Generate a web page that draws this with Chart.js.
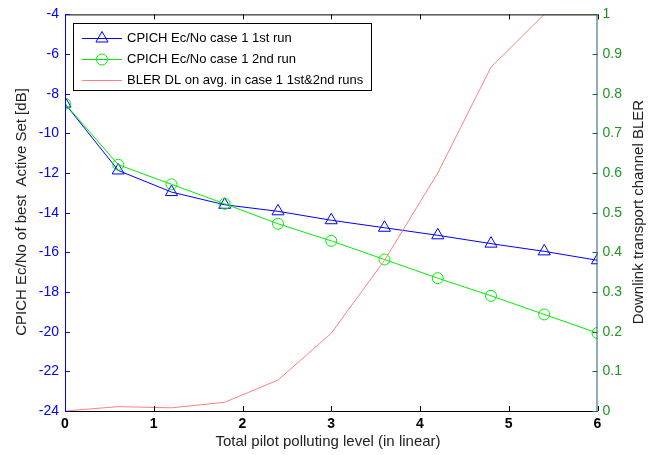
<!DOCTYPE html>
<html lang="en">
<head>
    <meta charset="UTF-8">
    <title>CPICH Ec/No and BLER vs pilot polluting level</title>
    <script src="https://cdn.jsdelivr.net/npm/chart.js@4.4.8/dist/chart.umd.min.js"></script>
    <style>
        html, body { margin: 0; padding: 0; background: #fff; }
        #wrap { width: 660px; height: 455px; position: relative; }
    </style>
</head>
<body>
    <div id="wrap"><canvas id="mainChart" width="660" height="455"></canvas></div>

    <script>
        // data
        const pollutionLevels = [0, 0.6, 1.2, 1.8, 2.4, 3.0, 3.6, 4.2, 4.8, 5.4, 6.0];
        const ecnoRun1 = [-8.5, -11.87, -12.96, -13.6, -13.93, -14.38, -14.76, -15.14, -15.56, -15.95, -16.4];
        const ecnoRun2 = [-8.5, -11.58, -12.57, -13.55, -14.56, -15.42, -16.36, -17.3, -18.19, -19.13, -20.07];
        const blerAvg = [0.0, 0.011, 0.008, 0.022, 0.078, 0.196, 0.38, 0.6, 0.867, 1.0, 1.0];

        const xTickValues = [0, 1, 2, 3, 4, 5, 6];
        const leftTickValues = [-24, -22, -20, -18, -16, -14, -12, -10, -8, -6, -4];
        const rightTickValues = [0, 0.1, 0.2, 0.3, 0.4, 0.5, 0.6, 0.7, 0.8, 0.9, 1];

        const seriesLabels = [
            'CPICH Ec/No case 1 1st run',
            'CPICH Ec/No case 1 2nd run',
            'BLER DL on avg. in case 1 1st&2nd runs'
        ];

        const FONT = "'Liberation Sans', Arial, sans-serif";
        const BLUE = '#0000ff';
        const GREEN = '#00ee00';
        const RED = '#ff8080';
        const RIGHT_AXIS = '#1d5f6a';
        const RIGHT_LABEL = '#1f961f';

        function toPoints(ys) {
            return pollutionLevels.map((x, i) => ({ x: x, y: ys[i] }));
        }

        // frame, inward ticks, titles and legend drawn like the original figure
        const matlabAxes = {
            id: 'matlabAxes',
            afterDatasetsDraw(chart) {
                const ctx = chart.ctx;
                const a = chart.chartArea;
                const xs = chart.scales.x, yl = chart.scales.y, yr = chart.scales.y1;
                const tl = 5;
                ctx.save();
                ctx.lineWidth = 1;

                // top and bottom lines with ticks
                ctx.strokeStyle = '#000';
                ctx.beginPath();
                ctx.moveTo(a.left, a.top + 0.5); ctx.lineTo(a.right, a.top + 0.5);
                ctx.moveTo(a.left, a.bottom + 0.5); ctx.lineTo(a.right, a.bottom + 0.5);
                xTickValues.forEach(v => {
                    const px = Math.round(xs.getPixelForValue(v)) + 0.5;
                    ctx.moveTo(px, a.bottom); ctx.lineTo(px, a.bottom - tl);
                    ctx.moveTo(px, a.top); ctx.lineTo(px, a.top + tl);
                });
                ctx.stroke();

                // left axis
                ctx.strokeStyle = BLUE;
                ctx.beginPath();
                ctx.moveTo(a.left + 0.5, a.top); ctx.lineTo(a.left + 0.5, a.bottom + 1);
                leftTickValues.forEach(v => {
                    const py = Math.round(yl.getPixelForValue(v)) + 0.5;
                    ctx.moveTo(a.left, py); ctx.lineTo(a.left + tl, py);
                });
                ctx.stroke();

                // right axis
                ctx.strokeStyle = RIGHT_AXIS;
                ctx.beginPath();
                ctx.moveTo(a.right - 0.5, a.top); ctx.lineTo(a.right - 0.5, a.bottom + 1);
                ctx.stroke();
                ctx.strokeStyle = '#1a6a2a';
                ctx.beginPath();
                rightTickValues.forEach(v => {
                    const py = Math.round(yr.getPixelForValue(v)) + 0.5;
                    ctx.moveTo(a.right, py); ctx.lineTo(a.right - tl, py);
                });
                ctx.stroke();
                ctx.restore();
            },
            afterDraw(chart) {
                const ctx = chart.ctx;
                ctx.save();

                // axis titles
                ctx.fillStyle = '#222';
                ctx.font = '15px ' + FONT;
                ctx.textAlign = 'center';
                ctx.textBaseline = 'middle';
                ctx.fillText('Total pilot polluting level (in linear)', 328, 442);

                ctx.save();
                ctx.translate(22, 212);
                ctx.rotate(-Math.PI / 2);
                ctx.fillText('CPICH Ec/No of best  Active Set [dB]', 0, 0);
                ctx.restore();

                ctx.save();
                ctx.translate(639, 212);
                ctx.rotate(-Math.PI / 2);
                ctx.fillText('Downlink transport channel BLER', 0, 0);
                ctx.restore();

                // legend box
                const box = { x: 73.5, y: 23.5, w: 298, h: 67 };
                ctx.fillStyle = '#fff';
                ctx.fillRect(box.x, box.y, box.w, box.h);
                ctx.strokeStyle = '#000';
                ctx.lineWidth = 1;
                ctx.strokeRect(box.x, box.y, box.w, box.h);

                const rows = [38, 59, 80];
                chart.data.datasets.forEach((ds, i) => {
                    const y = rows[i] + 0.5;
                    ctx.strokeStyle = ds.borderColor;
                    ctx.lineWidth = 1;
                    ctx.beginPath();
                    ctx.moveTo(82, y); ctx.lineTo(122, y);
                    ctx.stroke();
                    if (ds.pointRadius > 0) {
                        ctx.fillStyle = 'rgba(0,0,0,0)';
                        ctx.strokeStyle = ds.borderColor;
                        Chart.helpers.drawPoint(ctx, {
                            pointStyle: ds.pointStyle,
                            radius: ds.pointRadius,
                            borderWidth: 1
                        }, 102, y);
                    }
                    ctx.fillStyle = '#000';
                    ctx.font = '13px ' + FONT;
                    ctx.textAlign = 'left';
                    ctx.textBaseline = 'middle';
                    ctx.fillText(ds.label, 127, rows[i]);
                });
                ctx.restore();
            }
        };

        const ctx = document.getElementById('mainChart').getContext('2d');
        const mainChart = new Chart(ctx, {
            type: 'line',
            data: {
                datasets: [
                    {
                        label: seriesLabels[0],
                        data: toPoints(ecnoRun1),
                        yAxisID: 'y',
                        borderColor: BLUE,
                        backgroundColor: 'rgba(0,0,0,0)',
                        borderWidth: 1,
                        pointStyle: 'triangle',
                        pointRadius: 7,
                        pointBorderWidth: 1,
                        pointBackgroundColor: 'rgba(0,0,0,0)',
                        order: 2
                    },
                    {
                        label: seriesLabels[1],
                        data: toPoints(ecnoRun2),
                        yAxisID: 'y',
                        borderColor: GREEN,
                        backgroundColor: 'rgba(0,0,0,0)',
                        borderWidth: 1,
                        pointStyle: 'circle',
                        pointRadius: 5.5,
                        pointBorderWidth: 1,
                        pointBackgroundColor: 'rgba(0,0,0,0)',
                        order: 1
                    },
                    {
                        label: seriesLabels[2],
                        data: toPoints(blerAvg),
                        yAxisID: 'y1',
                        borderColor: RED,
                        backgroundColor: 'rgba(0,0,0,0)',
                        borderWidth: 1,
                        pointRadius: 0,
                        order: 0
                    }
                ]
            },
            options: {
                responsive: false,
                animation: false,
                events: [],
                layout: { padding: { top: 13, left: 0, right: 0, bottom: 0 } },
                plugins: {
                    legend: { display: false },
                    tooltip: { enabled: false }
                },
                scales: {
                    x: {
                        type: 'linear',
                        min: 0,
                        max: 6,
                        grid: { display: false, drawTicks: false },
                        border: { display: false },
                        afterBuildTicks: s => { s.ticks = xTickValues.map(v => ({ value: v })); },
                        afterFit: s => { s.height = 44; },
                        ticks: {
                            color: '#000',
                            font: { family: FONT, size: 14, weight: 'bold' },
                            padding: 5,
                            maxRotation: 0,
                            callback: v => String(v)
                        }
                    },
                    y: {
                        position: 'left',
                        min: -24,
                        max: -4,
                        grid: { display: false, drawTicks: false },
                        border: { display: false },
                        afterBuildTicks: s => { s.ticks = leftTickValues.map(v => ({ value: v })); },
                        afterFit: s => { s.width = 65; },
                        ticks: {
                            color: BLUE,
                            font: { family: FONT, size: 14 },
                            padding: 6,
                            callback: v => String(v)
                        }
                    },
                    y1: {
                        position: 'right',
                        min: 0,
                        max: 1,
                        grid: { display: false, drawTicks: false },
                        border: { display: false },
                        afterBuildTicks: s => { s.ticks = rightTickValues.map(v => ({ value: v })); },
                        afterFit: s => { s.width = 62.5; },
                        ticks: {
                            color: RIGHT_LABEL,
                            font: { family: FONT, size: 14 },
                            padding: 5,
                            callback: v => String(Math.round(v * 10) / 10)
                        }
                    }
                }
            },
            plugins: [matlabAxes]
        });
    </script>
</body>
</html>
